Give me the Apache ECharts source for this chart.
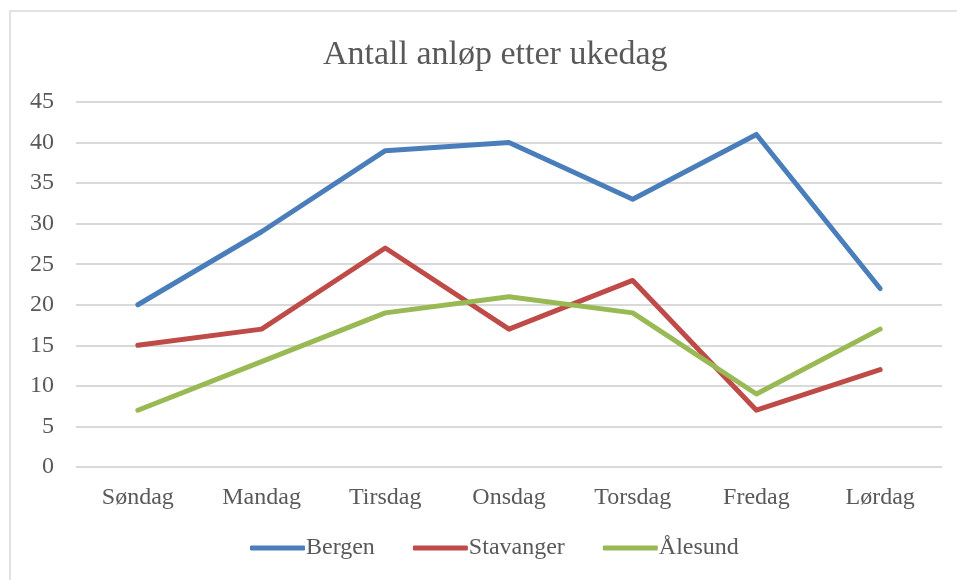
<!DOCTYPE html>
<html>
<head>
<meta charset="utf-8">
<script src="https://cdn.jsdelivr.net/npm/echarts@6/dist/echarts.min.js"></script>
<style>
  html, body { margin: 0; padding: 0; background: #fff; }
  #chart { width: 957px; height: 580px; }
</style>
</head>
<body>
<div id="chart"></div>
<script>
const days = ["Søndag", "Mandag", "Tirsdag", "Onsdag", "Torsdag", "Fredag", "Lørdag"];
const bergen = [20, 29, 39, 40, 33, 41, 22];
const stavanger = [15, 17, 27, 17, 23, 7, 12];
const alesund = [7, 13, 19, 21, 19, 9, 17];

const font = "'Liberation Serif', 'DejaVu Serif', serif";
const textColor = "#595959";

const chart = echarts.init(document.getElementById("chart"));

function line(name, data, color) {
  return {
    name,
    type: "line",
    data,
    symbol: "none",
    lineStyle: { width: 5, color, cap: "round", join: "round" },
    itemStyle: { color },
  };
}

chart.setOption({
  animation: false,
  graphic: [
    {
      type: "rect",
      shape: { x: 10, y: 11, width: 1200, height: 800 },
      style: { fill: "none", stroke: "#d9d9d9", lineWidth: 1.5 },
    },
  ],
  title: {
    text: "Antall anløp etter ukedag",
    left: 318,
    top: 33,
    textStyle: { fontFamily: font, fontSize: 34, fontWeight: "normal", color: textColor },
  },
  legend: {
    bottom: 15,
    left: 245,
    itemWidth: 55,
    itemHeight: 5,
    itemGap: 38,
    icon: "roundRect",
    textStyle: { fontFamily: font, fontSize: 24, color: textColor, padding: [0, 0, 0, -4] },
    data: ["Bergen", "Stavanger", "Ålesund"],
  },
  grid: { left: 76, right: 15, top: 102, bottom: 113 },
  xAxis: {
    type: "category",
    data: days,
    boundaryGap: true,
    axisLine: { show: false },
    axisTick: { show: false },
    axisLabel: { fontFamily: font, fontSize: 24, color: textColor, margin: 19 },
  },
  yAxis: {
    type: "value",
    min: 0,
    max: 45,
    interval: 5,
    axisLine: { show: false },
    axisTick: { show: false },
    axisLabel: { fontFamily: font, fontSize: 24, color: textColor, margin: 22 },
    splitLine: { lineStyle: { color: "#d9d9d9", width: 2 } },
  },
  series: [
    line("Bergen", bergen, "#4a7ebb"),
    line("Stavanger", stavanger, "#be4b48"),
    line("Ålesund", alesund, "#98b954"),
  ],
});
</script>
</body>
</html>
